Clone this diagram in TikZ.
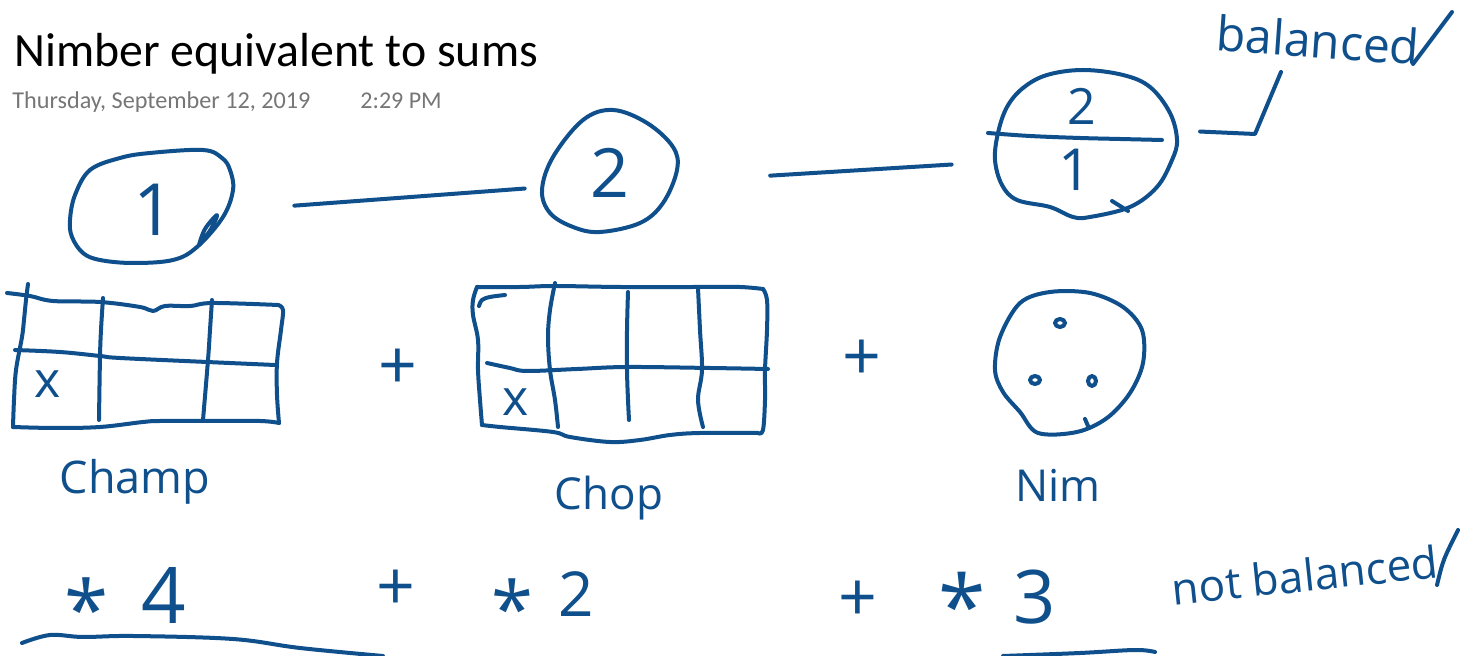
\documentclass[tikz,border=0pt]{standalone}
\usepackage{fontspec}
\setmainfont{Carlito}
\newfontfamily\handfont{Open Sans}
\usetikzlibrary{shapes.geometric}
\definecolor{ink}{RGB}{14,79,140}
\definecolor{stamp}{RGB}{118,118,118}
\newcommand\handsize[1]{\fontsize{#1}{#1}\selectfont}

\begin{document}
\begin{tikzpicture}[x=0.5pt,y=-0.5pt,
  pen/.style={draw=ink,line width=2pt,line cap=round,line join=round},
  hand/.style={text=ink,inner sep=0pt,font=\handfont\handsize{#1}},
  hand/.default=22,
  blob/.style={ellipse,inner sep=0pt,text=ink},
  stroke/.style={pen,smooth,tension=0.6},
]
\useasboundingbox (0,0) rectangle (1461,656);
\fill[white] (0,0) rectangle (1461,656);

% page header
\node[anchor=base west,inner sep=0pt,font=\handsize{23.9}] (title) at (14,67) {Nimber equivalent to sums};
\node[anchor=base west,inner sep=0pt,text=stamp,font=\handsize{12.1}] (date) at (12,109) {Thursday, September 12, 2019};
\node[anchor=base west,inner sep=0pt,text=stamp,font=\handsize{12}] (time) at (360,109) {2:29 PM};

% top row: the positions 1 -- 2 -- 2/1
\node[blob,minimum width=81.5pt,minimum height=56.5pt,font=\handfont\handsize{36}] (c1) at (154,210) {1};
\node[blob,minimum width=68pt,minimum height=61pt,font=\handfont\handsize{34}] (c2) at (610,173) {2};
\node[blob,minimum width=90pt,minimum height=73.5pt] (c3) at (1087,143) {};
\node[hand=25] (c3top) at (1082,106) {2};
\node[hand=29] (c3bot) at (1075,170) {1};

\draw[pen] plot[smooth cycle,tension=0.6] coordinates {(70,220) (75,195) (90,170) (120,158) (150,153) (203,150) (222,158) (230,170) (233,190) (223,217) (197,247) (173,260) (133,263) (100,260) (83,253) (72,237)};
\draw[stroke] plot coordinates {(199,245) (205,229) (217,215) (211,229) (200,244)};
\draw[pen] plot[smooth cycle,tension=0.6] coordinates {(613,110) (583,120) (553,157) (542,190) (550,213) (573,227) (600,232) (640,223) (663,203) (677,170) (673,147) (647,123)};
\draw[pen] plot[smooth cycle,tension=0.6] coordinates {(1083,70) (1047,75) (1023,88) (1007,107) (998,133) (995,160) (1002,185) (1017,200) (1050,207) (1073,217) (1090,217) (1130,207) (1157,187) (1172,160) (1177,140) (1170,113) (1150,87) (1123,75)};
\draw[stroke] plot coordinates {(988,133) (1030,136) (1080,138) (1120,139) (1162,140)};
\draw[pen] (1112,201) -- (1128,211);

\draw[pen,shorten <=29.3pt,shorten >=9.4pt] (c1.east) -- (c2.192);
\draw[pen,shorten <=46.3pt,shorten >=24pt] (c2.353) -- (c3.192);

% the "balanced" mark
\node[hand=24,rotate=-4] (bal) at (1318,40) {balanced};
\draw[pen] (1413,64) -- (1452,12);
\coordinate (bk) at (1255,134);
\coordinate (bkt) at (1281,72);
\draw[pen,shorten <=12pt] (c3.8) -- (bk) -- (bkt);

% Champ board
\draw[stroke] plot coordinates {(7,293) (30,296) (53,301) (100,302) (140,307) (153,311) (165,306) (190,306) (213,303) (278,305)};
\draw[stroke] plot coordinates {(278,305) (283,310) (281,330) (277,363) (277,395) (279,423)};
\draw[stroke] plot coordinates {(279,423) (260,421) (207,421) (160,421) (143,422) (100,427) (55,428) (13,427)};
\draw[stroke] plot coordinates {(28,284) (26,300) (24,320) (22,337) (16,370) (14,400) (13,427)};
\draw[stroke] plot coordinates {(15,350) (60,352) (100,356) (120,358) (207,362) (275,365)};
\draw[stroke] plot coordinates {(103,298) (101,330) (100,357) (99,420)};
\draw[stroke] plot coordinates {(212,300) (210,330) (208,360) (203,420)};
\node[hand=25] (cx) at (48,384) {x};
\node[hand=22.5] (champ) at (135,482) {Champ};

\node[hand=34] (p1) at (398,369) {+};

% Chop board
\draw[stroke] plot coordinates {(477,287) (520,287) (555,286) (620,287) (700,287) (740,287) (763,289)};
\draw[stroke] plot coordinates {(763,289) (767,300) (767,330) (765,370) (765,400) (763,430) (758,433)};
\draw[stroke] plot coordinates {(758,433) (700,433) (670,435) (640,440) (610,442) (570,437) (553,432) (500,427) (482,425)};
\draw[stroke] plot coordinates {(482,425) (480,400) (478,370) (478,340) (473,315) (473,300) (477,287)};
\draw[stroke] plot coordinates {(505,295) (490,297) (482,300) (479,306)};
\draw[stroke] plot coordinates {(487,363) (510,368) (527,371) (577,369) (627,367) (710,368) (768,369)};
\draw[stroke] plot coordinates {(555,283) (550,310) (548,337) (550,370) (555,400) (558,427)};
\draw[stroke] plot coordinates {(628,292) (627,330) (627,370) (628,400) (629,420)};
\draw[stroke] plot coordinates {(698,288) (700,330) (702,370) (698,400) (703,427)};
\node[hand=25] (chx) at (516,402) {x};
\node[hand=22] (chop) at (609,498) {Chop};

\node[hand=34] (p2) at (862,360) {+};

% Nim heap
\draw[pen] plot[smooth cycle,tension=0.55] coordinates {(1050,292) (1020,303) (1000,337) (995,370) (1003,392) (1020,412) (1038,433) (1077,432) (1107,418) (1130,393) (1143,363) (1142,330) (1123,307) (1090,293)};
\draw[pen] (1060,323) ellipse [x radius=5, y radius=4];
\draw[pen] (1035,380) ellipse [x radius=5, y radius=4];
\draw[pen] (1092,381) ellipse [x radius=4, y radius=5];
\draw[pen] (1085,419) -- (1088,426);
\node[hand=22] (nim) at (1058,485) {Nim};

% nimber sum
\node[hand=40] (a1) at (87,608) {*};
\node[hand=39] (n4) at (164,596) {4};
\node[hand=34] (p3) at (396,590) {+};
\node[hand=38] (a2) at (512,608) {*};
\node[hand=31] (n2) at (576,594) {2};
\node[hand=34] (p4) at (858,601) {+};
\node[hand=43] (a3) at (962,605) {*};
\node[hand=37] (n3) at (1035,597) {3};
\draw[stroke] plot coordinates {(22,643) (50,635) (83,637) (133,636) (233,639) (300,648) (383,656)};
\draw[stroke] plot coordinates {(1003,656) (1080,653) (1135,650) (1155,652)};

\node[hand=22,rotate=6] (nbal) at (1305,575) {not balanced};
\draw[pen] (1437,585) .. controls (1443,560) .. (1458,530);
\end{tikzpicture}
\end{document}
